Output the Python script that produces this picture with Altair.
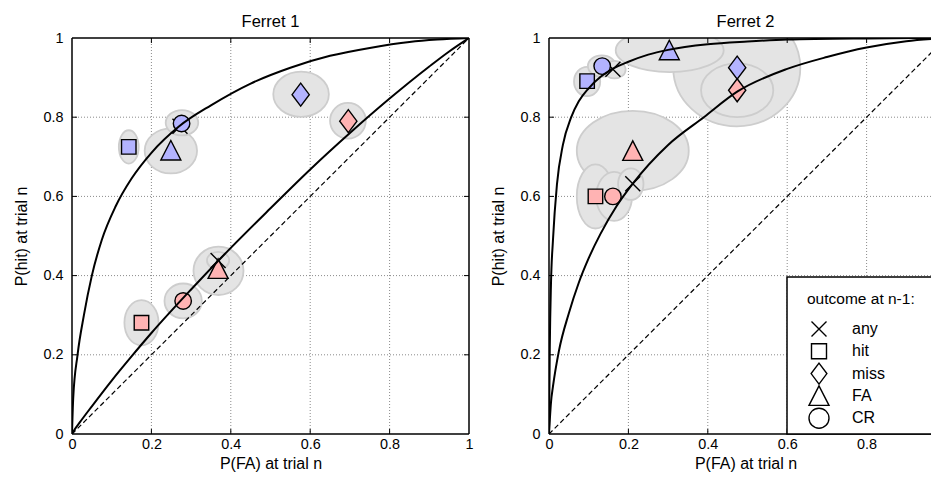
import altair as alt
import pandas as pd

# ---------------- data ----------------
OUTCOMES = ["any", "hit", "miss", "FA", "CR"]
GROUPS = ["blue", "red"]
TICK_VALUES = [0, 0.2, 0.4, 0.6, 0.8, 1]
INNER_TICKS = [0.2, 0.4, 0.6, 0.8]
LEGEND_TITLE = "outcome at n-1:"

# Ferret 1 markers
F1_OUTCOME = ["any", "hit", "CR", "FA", "miss", "any", "miss", "FA", "CR", "hit"]
F1_GROUP = ["blue", "blue", "blue", "blue", "blue", "red", "red", "red", "red", "red"]
F1_FA = [0.272, 0.143, 0.276, 0.249, 0.576, 0.368, 0.696, 0.368, 0.280, 0.175]
F1_HIT = [0.777, 0.725, 0.784, 0.716, 0.857, 0.438, 0.790, 0.417, 0.336, 0.281]

# Ferret 1 confidence ellipses (centre, half-widths in data units)
F1_ELL_CX = [0.143, 0.277, 0.249, 0.577, 0.695, 0.369, 0.368, 0.280, 0.175]
F1_ELL_CY = [0.725, 0.786, 0.715, 0.858, 0.791, 0.412, 0.438, 0.336, 0.281]
F1_ELL_RX = [0.025, 0.041, 0.066, 0.070, 0.045, 0.063, 0.028, 0.047, 0.043]
F1_ELL_RY = [0.042, 0.032, 0.057, 0.057, 0.045, 0.061, 0.022, 0.044, 0.057]

# Ferret 1 ROC curves
F1_UP_FA = [0, 0.003, 0.014, 0.03, 0.05, 0.075, 0.11, 0.15, 0.2, 0.27, 0.35, 0.45, 0.55, 0.65, 0.75, 0.85, 0.92, 1]
F1_UP_HIT = [0, 0.09, 0.2, 0.3, 0.4, 0.49, 0.575, 0.645, 0.71, 0.777, 0.83, 0.885, 0.925, 0.955, 0.975, 0.99, 0.996, 1]
F1_LO_FA = [0, 0.005, 0.02, 0.05, 0.1, 0.15, 0.2, 0.3, 0.4, 0.5, 0.6, 0.7, 0.8, 0.9, 0.95, 1]
F1_LO_HIT = [0, 0.009, 0.03, 0.07, 0.135, 0.196, 0.255, 0.365, 0.47, 0.57, 0.668, 0.76, 0.847, 0.928, 0.966, 1]

# Ferret 2 markers
F2_OUTCOME = ["any", "hit", "CR", "FA", "miss", "any", "miss", "FA", "hit", "CR"]
F2_GROUP = ["blue", "blue", "blue", "blue", "blue", "red", "red", "red", "red", "red"]
F2_FA = [0.161, 0.096, 0.134, 0.303, 0.474, 0.211, 0.474, 0.211, 0.117, 0.161]
F2_HIT = [0.921, 0.891, 0.929, 0.969, 0.925, 0.632, 0.868, 0.715, 0.600, 0.600]

# Ferret 2 confidence ellipses
F2_ELL_CX = [0.096, 0.133, 0.165, 0.304, 0.473, 0.474, 0.211, 0.206, 0.117, 0.164]
F2_ELL_CY = [0.890, 0.929, 0.920, 0.969, 0.925, 0.868, 0.715, 0.631, 0.600, 0.600]
F2_ELL_RX = [0.033, 0.035, 0.028, 0.136, 0.160, 0.091, 0.141, 0.032, 0.047, 0.045]
F2_ELL_RY = [0.037, 0.027, 0.022, 0.055, 0.148, 0.068, 0.101, 0.040, 0.081, 0.062]

# Ferret 2 ROC curves
F2_UP_FA = [0, 0.002, 0.005, 0.01, 0.02, 0.035, 0.056, 0.075, 0.1, 0.13, 0.16, 0.2, 0.25, 0.3, 0.4, 0.5, 0.6, 0.8, 1]
F2_UP_HIT = [0, 0.22, 0.38, 0.49, 0.63, 0.73, 0.8, 0.84, 0.873, 0.902, 0.922, 0.94, 0.958, 0.97, 0.984, 0.991, 0.996, 0.999, 1]
F2_LO_FA = [0, 0.005, 0.01, 0.025, 0.05, 0.075, 0.1, 0.13, 0.17, 0.21, 0.3, 0.39, 0.475, 0.6, 0.7, 0.8, 0.9, 1]
F2_LO_HIT = [0, 0.08, 0.12, 0.21, 0.305, 0.382, 0.444, 0.506, 0.575, 0.631, 0.73, 0.8, 0.865, 0.922, 0.952, 0.976, 0.992, 1]

DIAG = [0, 1]

# ---------------- styling ----------------
W, H = 397, 396            # full panel (0..1 on both axes)
W_CUT = 393                # the reference picture cuts panel 2 off at its right side
FONT = "Liberation Sans"
BLUE = "#b3b3ff"
RED = "#ffb3b3"
ELL_FILL = "#e4e4e4"
ELL_STROKE = "#cdcdcd"

X_PATH = "M-1,-1L1,1M-1,1L1,-1"
DIAMOND_PATH = "M0,-1L0.75,0L0,1L-0.75,0Z"
TRIANGLE_PATH = "M0,-1L1,0.95L-1,0.95Z"
SHAPE_RANGE = [X_PATH, "square", DIAMOND_PATH, TRIANGLE_PATH, "circle"]
SIZE_RANGE = [225, 210, 529, 400, 272]
LEG_SIZE = [225, 225, 441, 400, 400]

# legend layout in pixels, relative to the plot area of panel 2
LEG_BOX_X, LEG_BOX_Y = 238, 239
LEG_TITLE_X, LEG_TITLE_Y = 258, 261
LEG_SYM_X, LEG_LAB_X = 270, 303
LEG_ROW_Y0, LEG_ROW_DY = 291, 22.3

YSCALE = alt.Scale(domain=[0, 1], nice=False)
X_TITLE = "P(FA) at trial n"
Y_TITLE = "P(hit) at trial n"

AX_COMMON = dict(format=".1~f", grid=False, ticks=False, domain=False,
                 labelFlush=False, labelFont=FONT, labelFontSize=14.4, labelColor="black",
                 titleFont=FONT, titleFontSize=16, titleFontWeight="normal", titleColor="black")
AX_Y = alt.Axis(values=TICK_VALUES, labelPadding=9, titlePadding=13, **AX_COMMON)


def yenc(field):
    return alt.Y(f"{field}:Q", scale=YSCALE, axis=AX_Y, title=Y_TITLE)


ONE = pd.DataFrame({"d": [0]})


def legend_layers(pw):
    layers = [
        alt.Chart(ONE).mark_rect(fill="white", stroke="black", strokeWidth=1.5)
        .encode(x=alt.value(LEG_BOX_X), x2=alt.value(pw + 1),
                y=alt.value(LEG_BOX_Y), y2=alt.value(H)),
        alt.Chart(ONE).mark_text(text=LEGEND_TITLE, align="left", baseline="middle",
                                 font=FONT, fontSize=15.5, color="black")
        .encode(x=alt.value(LEG_TITLE_X), y=alt.value(LEG_TITLE_Y)),
    ]
    for i, (name, shp, sz) in enumerate(zip(OUTCOMES, SHAPE_RANGE, LEG_SIZE)):
        yrow = LEG_ROW_Y0 + i * LEG_ROW_DY
        row = pd.DataFrame({"outcome": [name]})
        layers.append(alt.Chart(row).mark_point(shape=shp, size=sz, filled=True, fill="white",
                                                stroke="black", strokeWidth=1.4, opacity=1)
                      .encode(x=alt.value(LEG_SYM_X), y=alt.value(yrow)))
        layers.append(alt.Chart(row).mark_text(align="left", baseline="middle", font=FONT,
                                               fontSize=16, color="black")
                      .encode(x=alt.value(LEG_LAB_X), y=alt.value(yrow), text="outcome:N"))
    return layers


def panel(title, outcome, group, fa, hit, ecx, ecy, erx, ery,
          up_fa, up_hit, lo_fa, lo_hit, pw, show_legend):
    xmax = pw / W
    xvals = [v for v in TICK_VALUES if v <= xmax + 1e-9]
    inner_x = [v for v in INNER_TICKS if v <= xmax + 1e-9]
    xscale = alt.Scale(domain=[0, xmax], nice=False)
    xaxis = alt.Axis(values=xvals, labelPadding=3, titlePadding=5, **AX_COMMON)

    def X(field):
        return alt.X(f"{field}:Q", scale=xscale, axis=xaxis, title=X_TITLE)

    layers = []
    tx_df = pd.DataFrame({"v": inner_x})
    ty_df = pd.DataFrame({"v": INNER_TICKS})

    # dotted grid
    layers.append(alt.Chart(tx_df).mark_rule(color="#8a8a8a", strokeDash=[1, 2], strokeWidth=1)
                  .encode(x=X("v"), y=alt.value(0), y2=alt.value(H)))
    layers.append(alt.Chart(ty_df).mark_rule(color="#8a8a8a", strokeDash=[1, 2], strokeWidth=1)
                  .encode(y=yenc("v"), x=alt.value(0), x2=alt.value(pw)))

    # ellipses, biggest first
    order = sorted(range(len(ecx)), key=lambda i: -(erx[i] * ery[i]))
    for i in order:
        rxp, ryp = erx[i] * W, ery[i] * H
        m = max(rxp, ryp)
        a, b = rxp / m, ryp / m
        path = (f"M{-a:.4f},0A{a:.4f},{b:.4f} 0 1,1 {a:.4f},0"
                f"A{a:.4f},{b:.4f} 0 1,1 {-a:.4f},0Z")
        edf = pd.DataFrame({"fa": [ecx[i]], "hit": [ecy[i]]})
        layers.append(alt.Chart(edf).mark_point(shape=path, size=(2 * m) ** 2, filled=True,
                                                fill=ELL_FILL, stroke=ELL_STROKE, strokeWidth=1.8,
                                                opacity=1, fillOpacity=1, clip=True)
                      .encode(x=X("fa"), y=yenc("hit")))

    # inward tick marks
    layers.append(alt.Chart(tx_df).mark_rule(color="black", strokeWidth=1)
                  .encode(x=X("v"), y=alt.value(H), y2=alt.value(H - 5)))
    layers.append(alt.Chart(tx_df).mark_rule(color="black", strokeWidth=1)
                  .encode(x=X("v"), y=alt.value(0), y2=alt.value(5)))
    layers.append(alt.Chart(ty_df).mark_rule(color="black", strokeWidth=1)
                  .encode(y=yenc("v"), x=alt.value(0), x2=alt.value(5)))
    if pw == W:
        layers.append(alt.Chart(ty_df).mark_rule(color="black", strokeWidth=1)
                      .encode(y=yenc("v"), x=alt.value(W), x2=alt.value(W - 5)))

    # markers
    mdf = pd.DataFrame({"outcome": outcome, "group": group, "fa": fa, "hit": hit})
    mdf["kind"] = mdf["outcome"]
    layers.append(alt.Chart(mdf).mark_point(filled=True, stroke="black", strokeWidth=1.4,
                                            opacity=1, fillOpacity=1)
                  .encode(x=X("fa"), y=yenc("hit"),
                          shape=alt.Shape("outcome:N", scale=alt.Scale(domain=OUTCOMES, range=SHAPE_RANGE),
                                          legend=None),
                          size=alt.Size("kind:N",
                                        scale=alt.Scale(type="ordinal", domain=OUTCOMES, range=SIZE_RANGE),
                                        legend=None),
                          fill=alt.Fill("group:N", scale=alt.Scale(domain=GROUPS, range=[BLUE, RED]),
                                        legend=None)))

    # diagonal chance line
    ddf = pd.DataFrame({"fa": DIAG, "hit": DIAG})
    layers.append(alt.Chart(ddf).mark_line(color="black", strokeWidth=1.2, strokeDash=[5, 3], clip=True)
                  .encode(x=X("fa"), y=yenc("hit")))

    # ROC curves
    cdf = pd.concat([
        pd.DataFrame({"fa": up_fa, "hit": up_hit, "curve": "upper"}),
        pd.DataFrame({"fa": lo_fa, "hit": lo_hit, "curve": "lower"}),
    ], ignore_index=True)
    layers.append(alt.Chart(cdf).mark_line(color="black", strokeWidth=2, interpolate="monotone", clip=True)
                  .encode(x=X("fa"), y=yenc("hit"), detail="curve:N", order="fa:Q"))

    # frame (the cut panel has no visible right edge)
    fr = dict(color="black", strokeWidth=1.5)
    layers.append(alt.Chart(ONE).mark_rule(**fr)
                  .encode(x=alt.value(0), x2=alt.value(pw), y=alt.value(0)))
    layers.append(alt.Chart(ONE).mark_rule(**fr)
                  .encode(x=alt.value(0), x2=alt.value(pw), y=alt.value(H)))
    layers.append(alt.Chart(ONE).mark_rule(**fr)
                  .encode(x=alt.value(0), y=alt.value(0), y2=alt.value(H)))
    if pw == W:
        layers.append(alt.Chart(ONE).mark_rule(**fr)
                      .encode(x=alt.value(W), y=alt.value(0), y2=alt.value(H)))

    if show_legend:
        layers.extend(legend_layers(pw))

    return alt.layer(*layers).properties(
        width=pw, height=H,
        title=alt.TitleParams(title, fontSize=16.5, fontWeight="normal", font=FONT,
                              color="black", offset=-0.5))


left = panel("Ferret 1", F1_OUTCOME, F1_GROUP, F1_FA, F1_HIT,
             F1_ELL_CX, F1_ELL_CY, F1_ELL_RX, F1_ELL_RY,
             F1_UP_FA, F1_UP_HIT, F1_LO_FA, F1_LO_HIT, W, False)
right = panel("Ferret 2", F2_OUTCOME, F2_GROUP, F2_FA, F2_HIT,
              F2_ELL_CX, F2_ELL_CY, F2_ELL_RX, F2_ELL_RY,
              F2_UP_FA, F2_UP_HIT, F2_LO_FA, F2_LO_HIT, W_CUT, True)

chart = (alt.hconcat(left, right, spacing=16)
         .resolve_scale(x="independent", shape="independent", size="independent", fill="independent")
         .properties(padding={"left": 5, "top": 5, "right": -14, "bottom": 0}, background="white")
         .configure_view(stroke="transparent"))

chart.save("out.html", embed_options={"renderer": "svg", "actions": False})
